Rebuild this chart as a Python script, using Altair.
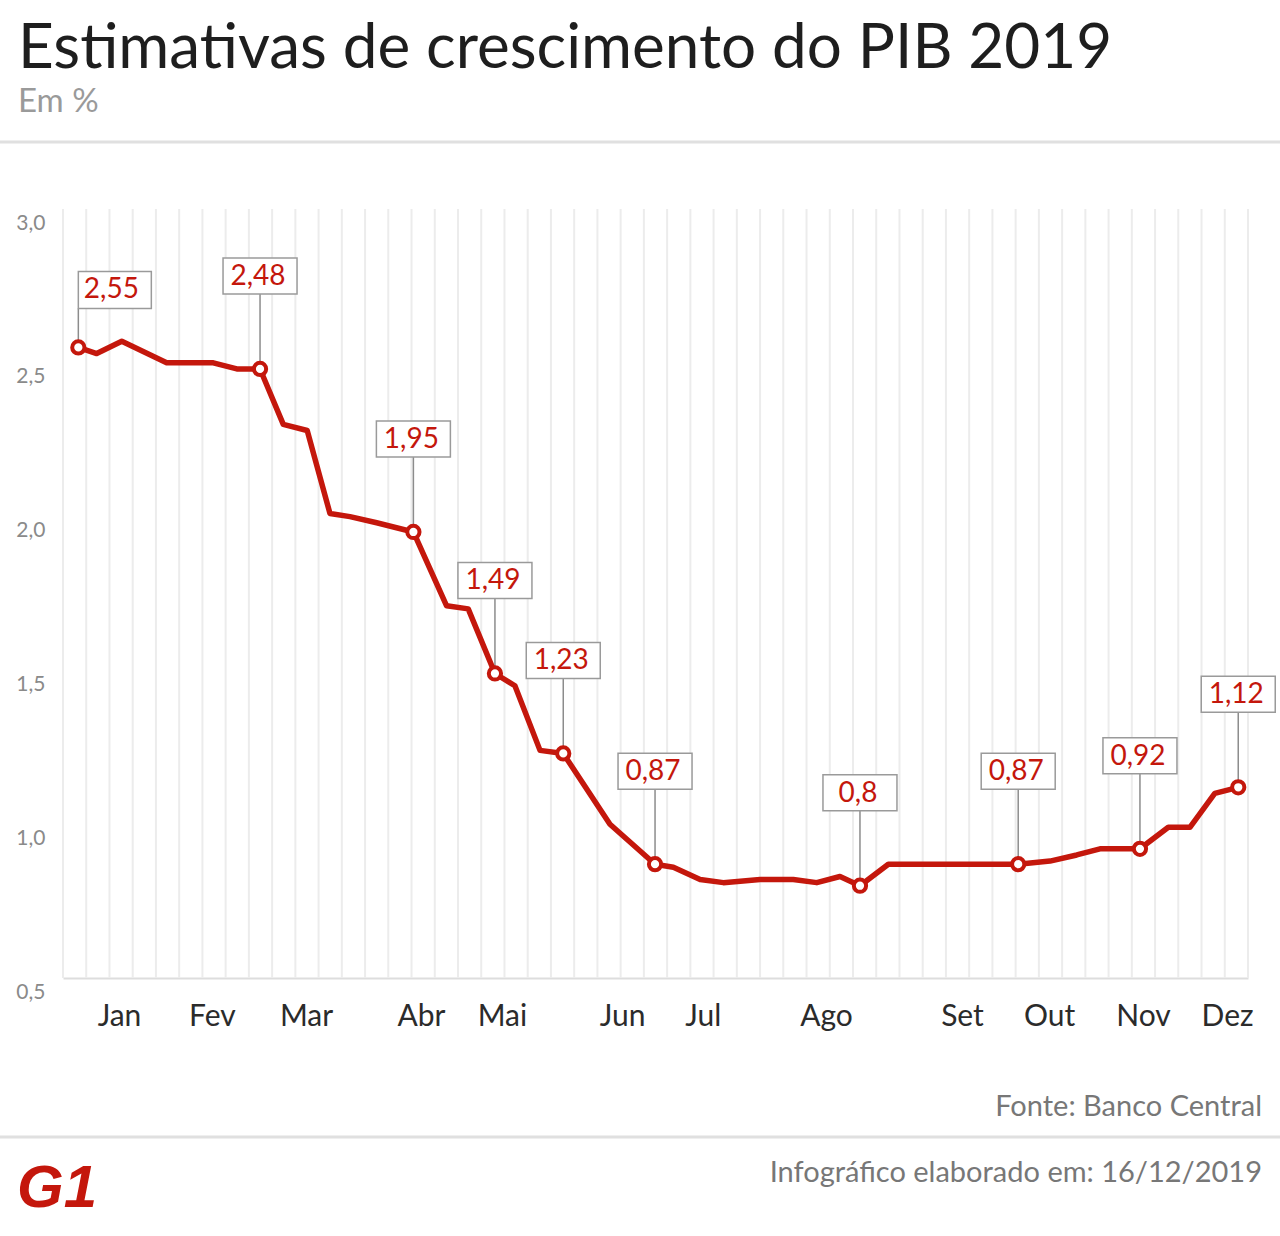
import altair as alt
import pandas as pd

# ---------------- data ----------------
TITLE = "Estimativas de crescimento do PIB 2019"
SUBTITLE = "Em %"
SOURCE = "Fonte: Banco Central"
CREDIT = "Infográfico elaborado em: 16/12/2019"
LOGO = "G1"

# position along the year in weekly units (week grid 0..51) and GDP estimate (%)
weeks = [0.66, 1.45, 2.53, 4.46, 6.47, 7.48, 8.48, 9.48, 10.51, 11.49, 12.35, 13.50,
         15.08, 16.51, 17.44, 18.59, 19.45, 20.53, 21.53, 23.54, 25.48, 26.27, 27.42,
         28.42, 30.00, 31.43, 32.44, 33.44, 34.30, 35.52, 41.11, 42.48, 43.63, 44.63,
         46.35, 47.57, 48.50, 49.57, 50.58]
pib = [2.55, 2.53, 2.57, 2.50, 2.50, 2.48, 2.48, 2.30, 2.28, 2.01, 2.00, 1.98,
       1.95, 1.71, 1.70, 1.49, 1.45, 1.24, 1.23, 1.00, 0.87, 0.86, 0.82,
       0.81, 0.82, 0.82, 0.81, 0.83, 0.80, 0.87, 0.87, 0.88, 0.90, 0.92,
       0.92, 0.99, 0.99, 1.10, 1.12]
# indices of the highlighted (labelled) points
label_idx = [0, 6, 12, 15, 18, 20, 28, 30, 34, 38]

grid_weeks = list(range(52))
months = ["Jan", "Fev", "Mar", "Abr", "Mai", "Jun", "Jul", "Ago", "Set", "Out", "Nov", "Dez"]
month_pos = [2.41, 6.41, 10.46, 15.41, 18.89, 24.06, 27.54, 32.84, 38.69, 42.44, 46.48, 50.10]
y_ticks = [0.5, 1.0, 1.5, 2.0, 2.5, 3.0]

# ---------------- style ----------------
RED = "#c4170c"
FONT = "Lato"
W, H = 1185, 769

df = pd.DataFrame({"x": weeks, "y": pib})
lab = df.iloc[label_idx].copy()
lab["txt"] = [f"{v:.2f}".rstrip("0").rstrip(".").replace(".", ",") for v in lab["y"]]
lab["first"] = [i == 0 for i in range(len(lab))]
lab_first = lab[lab["first"]]
lab_std = lab[~lab["first"]]

xs = alt.Scale(domain=[0, 51], nice=False, zero=False)
ys = alt.Scale(domain=[0.5, 3.0], nice=False, zero=False)

month_arr = "[" + ",".join(f"'{m}'" for m in months) + "]"
pos_arr = "[" + ",".join(str(p) for p in month_pos) + "]"

x_axis = alt.Axis(values=month_pos, labelExpr=f"{month_arr}[indexof({pos_arr}, datum.value)]",
                  title=None, grid=False, ticks=False, tickSize=0, domain=True,
                  domainColor="#dddddd", domainWidth=2, labelFont=FONT, labelFontSize=30,
                  labelColor="#2b2b2b", labelPadding=38, labelBaseline="middle",
                  labelFlush=False, labelOverlap=False)
y_axis = alt.Axis(values=y_ticks, labelExpr="replace(format(datum.value, '.1f'), '.', ',')",
                  title=None, grid=False, ticks=False, tickSize=0, domain=False, labelFont=FONT,
                  labelFontSize=21, labelColor="#8a8a8a", labelPadding=18, labelOffset=14)


def X(f):
    return alt.X(f, type="quantitative", scale=xs, axis=x_axis)


def Y(f):
    return alt.Y(f, type="quantitative", scale=ys, axis=y_axis)


grid = alt.Chart(pd.DataFrame({"g": grid_weeks})).mark_rule(
    color="#ececec", strokeWidth=2
).encode(x=X("g"), y=alt.value(0), y2=alt.value(H))

line = alt.Chart(df).mark_line(color=RED, strokeWidth=5.5, strokeJoin="round").encode(
    x=X("x"), y=Y("y"))

pts = alt.Chart(lab).mark_point(shape="circle", filled=True, fill="white", stroke=RED,
                                strokeWidth=4, size=150, opacity=1).encode(x=X("x"), y=Y("y"))

# standard labels (box 75..111 px above the point)
conn_std = alt.Chart(lab_std).mark_rule(color="#8c8c8c", strokeWidth=1.5, y2Offset=-75).encode(
    x=X("x"), y=Y("y"), y2=alt.Y2("y"))
box_std = alt.Chart(lab_std).mark_rect(fill="white", stroke="#9a9a9a", strokeWidth=1.5,
                                       xOffset=-37, x2Offset=37, yOffset=-111, y2Offset=-75).encode(
    x=X("x"), x2=alt.X2("x"), y=Y("y"), y2=alt.Y2("y"))
txt_std = alt.Chart(lab_std).mark_text(font=FONT, fontSize=28, color=RED, baseline="middle",
                                       align="center", dx=-2, dy=-92).encode(
    x=X("x"), y=Y("y"), text="txt:N")

# first label (box to the right, closer to the point)
conn_f = alt.Chart(lab_first).mark_rule(color="#8c8c8c", strokeWidth=1.5, y2Offset=-39).encode(
    x=X("x"), y=Y("y"), y2=alt.Y2("y"))
box_f = alt.Chart(lab_first).mark_rect(fill="white", stroke="#9a9a9a", strokeWidth=1.5,
                                       xOffset=0, x2Offset=73, yOffset=-76, y2Offset=-39).encode(
    x=X("x"), x2=alt.X2("x"), y=Y("y"), y2=alt.Y2("y"))
txt_f = alt.Chart(lab_first).mark_text(font=FONT, fontSize=28, color=RED, baseline="middle",
                                       align="center", dx=33, dy=-57).encode(
    x=X("x"), y=Y("y"), text="txt:N")

# header / footer (pixel offsets relative to the plot area's top-left corner)
title = alt.Chart(pd.DataFrame({"t": [TITLE]})).mark_text(
    font=FONT, fontSize=62, color="#1e1e1e", align="left", baseline="alphabetic").encode(
    text="t:N", x=alt.value(-45), y=alt.value(-141))
subtitle = alt.Chart(pd.DataFrame({"t": [SUBTITLE]})).mark_text(
    font=FONT, fontSize=33, color="#9a9a9a", align="left", baseline="alphabetic").encode(
    text="t:N", x=alt.value(-45), y=alt.value(-97))
sep_top = alt.Chart(pd.DataFrame({"a": [0]})).mark_rule(color="#e0e0e0", strokeWidth=3).encode(
    x=alt.value(-63), x2=alt.value(W + 32), y=alt.value(-67))
sep_bot = alt.Chart(pd.DataFrame({"a": [0]})).mark_rule(color="#e0e0e0", strokeWidth=3).encode(
    x=alt.value(-63), x2=alt.value(W + 32), y=alt.value(928))
source = alt.Chart(pd.DataFrame({"t": [SOURCE]})).mark_text(
    font=FONT, fontSize=29, color="#777777", align="right", baseline="alphabetic").encode(
    text="t:N", x=alt.value(W + 14), y=alt.value(907))
credit = alt.Chart(pd.DataFrame({"t": [CREDIT]})).mark_text(
    font=FONT, fontSize=29, color="#777777", align="right", baseline="alphabetic").encode(
    text="t:N", x=alt.value(W + 14), y=alt.value(973))
logo = alt.Chart(pd.DataFrame({"t": [LOGO]})).mark_text(
    font="Liberation Sans", fontSize=60, fontWeight="bold", fontStyle="italic", color=RED,
    align="left", baseline="alphabetic").encode(
    text="t:N", x=alt.value(-46), y=alt.value(998))

chart = alt.layer(
    grid, conn_std, conn_f, line, pts, box_std, box_f, txt_std, txt_f,
    title, subtitle, sep_top, sep_bot, source, credit, logo,
).properties(
    width=W, height=H,
    autosize=alt.AutoSizeParams(type="none"),
    padding={"left": 63, "top": 209, "right": 32, "bottom": 258},
    background="white",
).configure_view(stroke=None)

chart.save("out.html", embed_options={"renderer": "svg", "actions": False})
